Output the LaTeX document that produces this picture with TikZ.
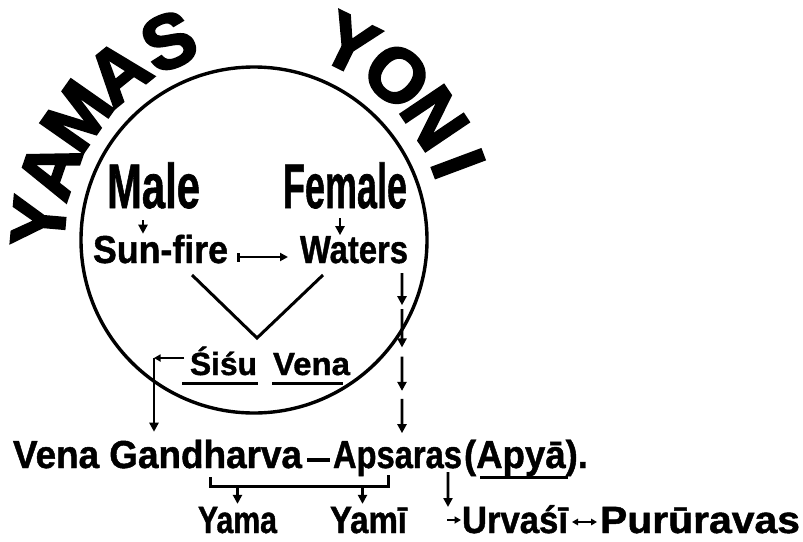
\documentclass[tikz,border=0pt]{standalone}
\usepackage{fontspec}
\setmainfont{Liberation Sans}[BoldFeatures={FakeBold=1.2}]
\newfontfamily\heavy{Liberation Sans}[BoldFeatures={FakeBold=3}]
\usepackage{graphicx}
\usetikzlibrary{arrows.meta,calc}
\newcommand{\wt}[3]{\resizebox{#2}{\height}{\fontsize{#1}{#1}\selectfont #3}}
\tikzset{
  lbl/.style={inner sep=0pt, outer sep=0pt, anchor=base west, font=\bfseries},
  big/.style={inner sep=0pt, outer sep=0pt, anchor=center, font=\heavy\bfseries\fontsize{76}{76}\selectfont},
  line/.style={line width=3pt},
  circ/.style={line width=3.4pt},
  arr/.style={line width=2.6pt, -{Triangle[length=9pt,width=9pt]}},
  arrs/.style={line width=2.2pt, -{Triangle[length=6.5pt,width=7pt]}},
}
\begin{document}
\begin{tikzpicture}[x=1pt,y=-1pt]
\useasboundingbox[fill=white] (0,0) rectangle (803,541);
% circle
\node[circle, draw, circ, minimum size=346pt, inner sep=0pt] (ring) at (254,240) {};
% arc letters
\node[big, rotate=85]    (y1) at (38.8,221.2) {Y};
\node[big, rotate=71]    (a1) at (49.8,169.7) {A};
\node[big, rotate=55]    (m1) at (77.1,116.1) {M};
\node[big, rotate=39]    (a2) at (118.1,72.1) {A};
\node[big, rotate=23]    (s1) at (168.8,41.3) {S};
\node[big, rotate=-26]   (y2) at (349.6,44.1) {Y};
\node[big, rotate=-41]   (o2) at (397,75.5) {O};
\node[big, rotate=-56]   (n2) at (434.7,118.1) {N};
\node[big, rotate=-69.5] (i2) at (458.2,163.7) {I};
% texts
\node[lbl] (male)    at (107,208) {\wt{63}{93pt}{Male}};
\node[lbl] (female)  at (283,208) {\wt{63}{124pt}{Female}};
\node[lbl] (sunfire) at (93,263)  {\wt{39}{135pt}{Sun-fire}};
\node[lbl] (waters)  at (300,263) {\wt{39}{108pt}{Waters}};
\node[lbl] (sisu)    at (190,375) {\wt{32}{67pt}{Śiśu}};
\node[lbl] (vena)    at (273,375) {\wt{32}{77pt}{Vena}};
\node[lbl] (vg)      at (13,468)  {\wt{39}{289pt}{Vena Gandharva}};
\node[lbl] (aps)     at (333,468) {\wt{39}{129pt}{Apsaras}};
\node[lbl] (apya)    at (464,468) {\wt{39}{124pt}{(Apyā).}};
\node[lbl] (yama)    at (198,533) {\wt{38}{79pt}{Yama}};
\node[lbl] (yami)    at (330,533) {\wt{38}{77pt}{Yamī}};
\node[lbl] (urv)     at (462,533) {\wt{38}{106pt}{Urvaśī}};
\node[lbl] (pur)     at (600,533) {\wt{38}{200pt}{Purūravas}};
% Male -> Sun-fire, Female -> Waters
\draw[arr] ($(male.base)+(-10.5,12)$) -- ($(male.base |- sunfire.north)+(-10.5,-1)$);
\draw[arr] ($(female.base)+(-5,10)$) -- ($(female.base |- waters.north)+(-5,-1)$);
% Sun-fire -> Waters
\draw[line width=2.6pt, {Bar[width=9pt]}-{Triangle[length=8pt,width=8pt]}] ($(sunfire.base east)+(9,-6)$) -- ($(waters.base west)+(-12,-6)$);
% V
\coordinate (vtip) at (257,338);
\draw[line] ($(sunfire.base east)+(-36,12)$) -- (vtip) -- ($(waters.base west)+(23,12)$);
% Sisu -> Vena Gandharva
\coordinate (sc) at (154,358);
\draw[arrs] ($(sisu.base west)+(-6,-17)$) -- (sc);
\draw[arr] (sc) -- ($(sc |- vg.north)+(0,-8)$);
% Waters -> Apsaras (broken chain)
\coordinate (wa) at ($(waters.base)+(48,10)$);
\coordinate (ap) at ($(aps.north)+(4.5,-8)$);
\foreach \a/\b in {0/0.201, 0.226/0.465, 0.522/0.736, 0.786/1}
  \draw[arr] ($(wa)!\a!(ap)$) -- ($(wa)!\b!(ap)$);
% Gandharva -- Apsaras
\draw[line width=3.6pt] ($(vg.base east)+(5,-8)$) -- ($(aps.base west)+(-3,-8)$);
% bracket to children
\coordinate (bl) at ($(vg.base east)+(-92,9)$);
\coordinate (br) at ($(aps.base west)+(55,7)$);
\coordinate (bb) at ($(bl)+(0,9)$);
\draw[line] (bl) -- (bb) -| (br);
\draw[arr] (yama.north |- bb) -- ($(yama.north)+(0,-3)$);
\draw[arr] ($(yami.north |- bb)+(-6,0)$) -- ($(yami.north)+(-6,-3)$);
% Apsaras -> Urvasi
\draw[arr] ($(aps.base east)+(-14,4)$) -- ($(urv.base west)+(-14,-26)$);
\draw[arrs] ($(urv.base west)+(-15,-13)$) -- ($(urv.base west)+(-1,-13)$);
% Urvasi <-> Pururavas
\draw[line width=2.2pt, {Triangle[length=6pt,width=6.5pt]}-{Triangle[length=6pt,width=6.5pt]}] ($(urv.base east)+(4,-11)$) -- ($(pur.base west)+(-3,-11)$);
% underlines
\draw[line] ($(sisu.base west)+(-8,8)$) -- ($(sisu.base east)+(1,8)$);
\draw[line] ($(vena.base west)+(-1,8)$) -- ($(vena.base east)+(-7,8)$);
\draw[line] ($(apya.base west)+(16,9)$) -- ($(apya.base west)+(104,9)$);
\end{tikzpicture}
\end{document}
